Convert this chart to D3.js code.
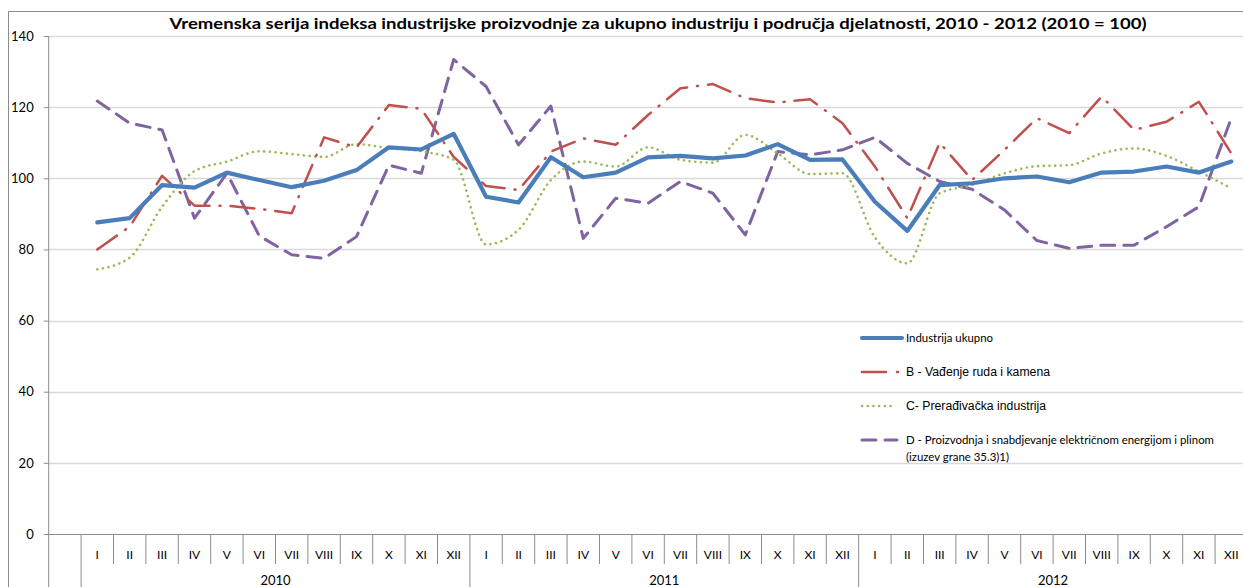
<!DOCTYPE html>
<html>
<head>
<meta charset="utf-8">
<script src="https://cdn.jsdelivr.net/npm/d3@7"></script>
<style>
  html, body { margin: 0; padding: 0; background: #fff; overflow: hidden; }
  svg { display: block; }
</style>
</head>
<body>
<div id="chart"></div>
<script>
// Month labels (roman) and years on the category axis
const months = ['I', 'II', 'III', 'IV', 'V', 'VI', 'VII', 'VIII', 'IX', 'X', 'XI', 'XII'];
const years = ['2010', '2011', '2012'];
const yTicks = [0, 20, 40, 60, 80, 100, 120, 140];

// Index series, Jan 2010 .. Dec 2012
const ukupno = [
  87.6, 88.8, 98.1, 97.4, 101.6, 99.5, 97.5, 99.3, 102.3, 108.7, 108.1, 112.5,
  94.8, 93.2, 105.9, 100.3, 101.6, 105.9, 106.3, 105.6, 106.4, 109.6, 105.2, 105.3,
  93.4, 85.2, 98.1, 98.6, 100.0, 100.5, 98.9, 101.6, 101.9, 103.3, 101.6, 104.7
];
const vadjenje = [
  80.0, 86.4, 100.7, 92.3, 92.3, 91.4, 90.2, 111.5, 108.7, 120.6, 119.5, 106.0,
  97.8, 96.7, 107.5, 111.2, 109.4, 117.8, 125.3, 126.5, 122.5, 121.3, 122.2, 115.5,
  103.3, 88.8, 110.0, 99.5, 108.0, 116.9, 112.7, 123.0, 113.6, 115.9, 121.5, 107.0
];
const preradjivacka = [
  74.4, 77.7, 92.0, 102.0, 104.7, 107.6, 106.8, 106.0, 109.6, 108.5, 107.6, 105.2,
  81.4, 85.5, 99.5, 104.7, 103.3, 108.7, 105.2, 104.4, 112.2, 107.0, 101.2, 101.4,
  83.4, 76.1, 95.8, 98.1, 101.4, 103.4, 103.7, 107.0, 108.4, 106.3, 101.9, 97.2
];
const energija = [
  121.7, 115.5, 113.6, 88.8, 101.4, 83.8, 78.5, 77.5, 83.6, 103.7, 101.4, 133.4,
  125.8, 109.4, 120.3, 83.1, 94.4, 93.0, 99.1, 95.8, 84.1, 107.5, 106.6, 108.0,
  111.5, 104.2, 99.1, 96.9, 91.1, 82.5, 80.3, 81.2, 81.2, 86.4, 92.0, 116.9
];

const seriesNames = [
  'Industrija ukupno',
  'B - Vađenje ruda i kamena',
  'C- Prerađivačka industrija',
  'D - Proizvodnja i snabdjevanje električnom energijom i plinom'
];

const W = 1243, H = 587;
const plot = { left: 48.7, top: 36, bottom: 534, step: 32.4 };

// one empty leading category, then 36 months
const cats = ['blank'].concat(d3.range(36).map(i => 'm' + i));

const svg = d3.select('#chart').append('svg')
  .attr('width', W).attr('height', H)
  .style('font-family', 'Lato, "Open Sans", sans-serif');

const x = d3.scaleBand()
  .domain(cats)
  .range([plot.left, plot.left + cats.length * plot.step])
  .paddingInner(0).paddingOuter(0);

const y = d3.scaleLinear().domain([0, 140]).range([plot.bottom, plot.top]);

// chart-area border (top and left edges visible)
svg.append('path')
  .attr('d', `M8.5,${H} V11.5 H${W}`)
  .attr('fill', 'none').attr('stroke', '#8c8c8c').attr('stroke-width', 1);

// horizontal gridlines
svg.append('g').selectAll('line')
  .data(yTicks.filter(t => t > 0))
  .join('line')
    .attr('x1', plot.left).attr('x2', W)
    .attr('y1', d => Math.round(y(d)) + 0.5).attr('y2', d => Math.round(y(d)) + 0.5)
    .attr('stroke', '#d9d9d9').attr('stroke-width', 1.5);

// y axis
const yAxis = d3.axisLeft(y).tickValues(yTicks).tickSize(5).tickPadding(10);
const yG = svg.append('g')
  .attr('transform', `translate(${plot.left},0)`)
  .call(yAxis);
yG.select('.domain').remove();
yG.selectAll('.tick line').attr('stroke', '#8c8c8c');
yG.selectAll('.tick text')
  .attr('fill', '#000')
  .style('font-size', '13px')
  .style('font-family', 'Lato, sans-serif');
svg.append('line')
  .attr('x1', plot.left).attr('x2', plot.left)
  .attr('y1', plot.top).attr('y2', plot.bottom)
  .attr('stroke', '#8c8c8c');

// category axis baseline
svg.append('line')
  .attr('x1', plot.left).attr('x2', W)
  .attr('y1', plot.bottom + 0.5).attr('y2', plot.bottom + 0.5)
  .attr('stroke', '#8c8c8c');

// category separators: short for months, long at year boundaries
const bounds = d3.range(cats.length + 1);
svg.append('g').selectAll('line')
  .data(bounds)
  .join('line')
    .attr('x1', i => plot.left + i * x.bandwidth())
    .attr('x2', i => plot.left + i * x.bandwidth())
    .attr('y1', plot.bottom)
    .attr('y2', i => (i <= 1 || (i - 1) % 12 === 0) ? H : plot.bottom + 30)
    .attr('stroke', '#8c8c8c');

// month labels
svg.append('g').selectAll('text')
  .data(d3.range(36))
  .join('text')
    .attr('x', i => x('m' + i) + x.bandwidth() / 2)
    .attr('y', plot.bottom + 25)
    .attr('text-anchor', 'middle')
    .style('font-size', '12px')
    .text(i => months[i % 12]);

// year labels, kept just inside the bottom edge
svg.append('g').selectAll('text')
  .data(years)
  .join('text')
    .attr('x', (d, k) => (x('m' + (k * 12)) + x('m' + (k * 12 + 11)) + x.bandwidth()) / 2)
    .attr('y', plot.bottom + 51)
    .attr('text-anchor', 'middle')
    .style('font-size', '13px')
    .text(d => d);

// title
svg.append('text')
  .attr('x', 658).attr('y', 29)
  .attr('text-anchor', 'middle')
  .attr('textLength', 977).attr('lengthAdjust', 'spacingAndGlyphs')
  .style('font-size', '16px').style('font-weight', 'bold')
  .text('Vremenska serija indeksa industrijske proizvodnje za ukupno industriju i područja djelatnosti, 2010 - 2012 (2010 = 100)');

// series styles
const styles = [
  { data: ukupno, color: '#4a7ebb', width: 4.2, dash: null, curve: d3.curveLinear },
  { data: vadjenje, color: '#c0504d', width: 2.5, dash: '24,10,1,10', curve: d3.curveLinear },
  { data: preradjivacka, color: '#9bbb59', width: 2.6, dash: '0.1,5.6', curve: d3.curveMonotoneX },
  { data: energija, color: '#8064a2', width: 3, dash: '14,9', curve: d3.curveLinear }
];

const cx = i => x('m' + i) + x.bandwidth() / 2;

// draw order: purple, green, red, blue on top
[3, 2, 1, 0].forEach(k => {
  const s = styles[k];
  const line = d3.line().x((d, i) => cx(i)).y(d => y(d)).curve(s.curve);
  svg.append('path')
    .datum(s.data)
    .attr('d', line)
    .attr('fill', 'none')
    .attr('stroke', s.color)
    .attr('stroke-width', s.width)
    .attr('stroke-linecap', 'round')
    .attr('stroke-linejoin', 'round')
    .attr('stroke-dasharray', s.dash);
});

// legend
const legendY = [338, 372, 406, 440];
const legendEnd = [902, 899, 893, 897];
const lg = svg.append('g');
styles.forEach((s, k) => {
  lg.append('line')
    .attr('x1', 862).attr('x2', legendEnd[k])
    .attr('y1', legendY[k]).attr('y2', legendY[k])
    .attr('stroke', s.color)
    .attr('stroke-width', s.width)
    .attr('stroke-linecap', 'round')
    .attr('stroke-dasharray', k === 1 ? '24,11,1,20' : s.dash);
});
const legendFont = ['Lato, sans-serif', '"Liberation Sans", Arial, sans-serif', '"Liberation Sans", Arial, sans-serif', 'Lato, sans-serif'];
const legendSize = ['11px', '12px', '12px', '11px'];
const legendWidth = [87, 144, 140, 308];
seriesNames.forEach((name, k) => {
  lg.append('text')
    .attr('x', 906).attr('y', legendY[k] + 4)
    .attr('textLength', legendWidth[k]).attr('lengthAdjust', 'spacingAndGlyphs')
    .style('font-family', legendFont[k])
    .style('font-size', legendSize[k])
    .text(name);
});
lg.append('text')
  .attr('x', 906).attr('y', 461)
  .attr('textLength', 103).attr('lengthAdjust', 'spacingAndGlyphs')
  .style('font-family', legendFont[3])
  .style('font-size', '11px')
  .text('(izuzev grane 35.3)1)');
</script>
</body>
</html>
